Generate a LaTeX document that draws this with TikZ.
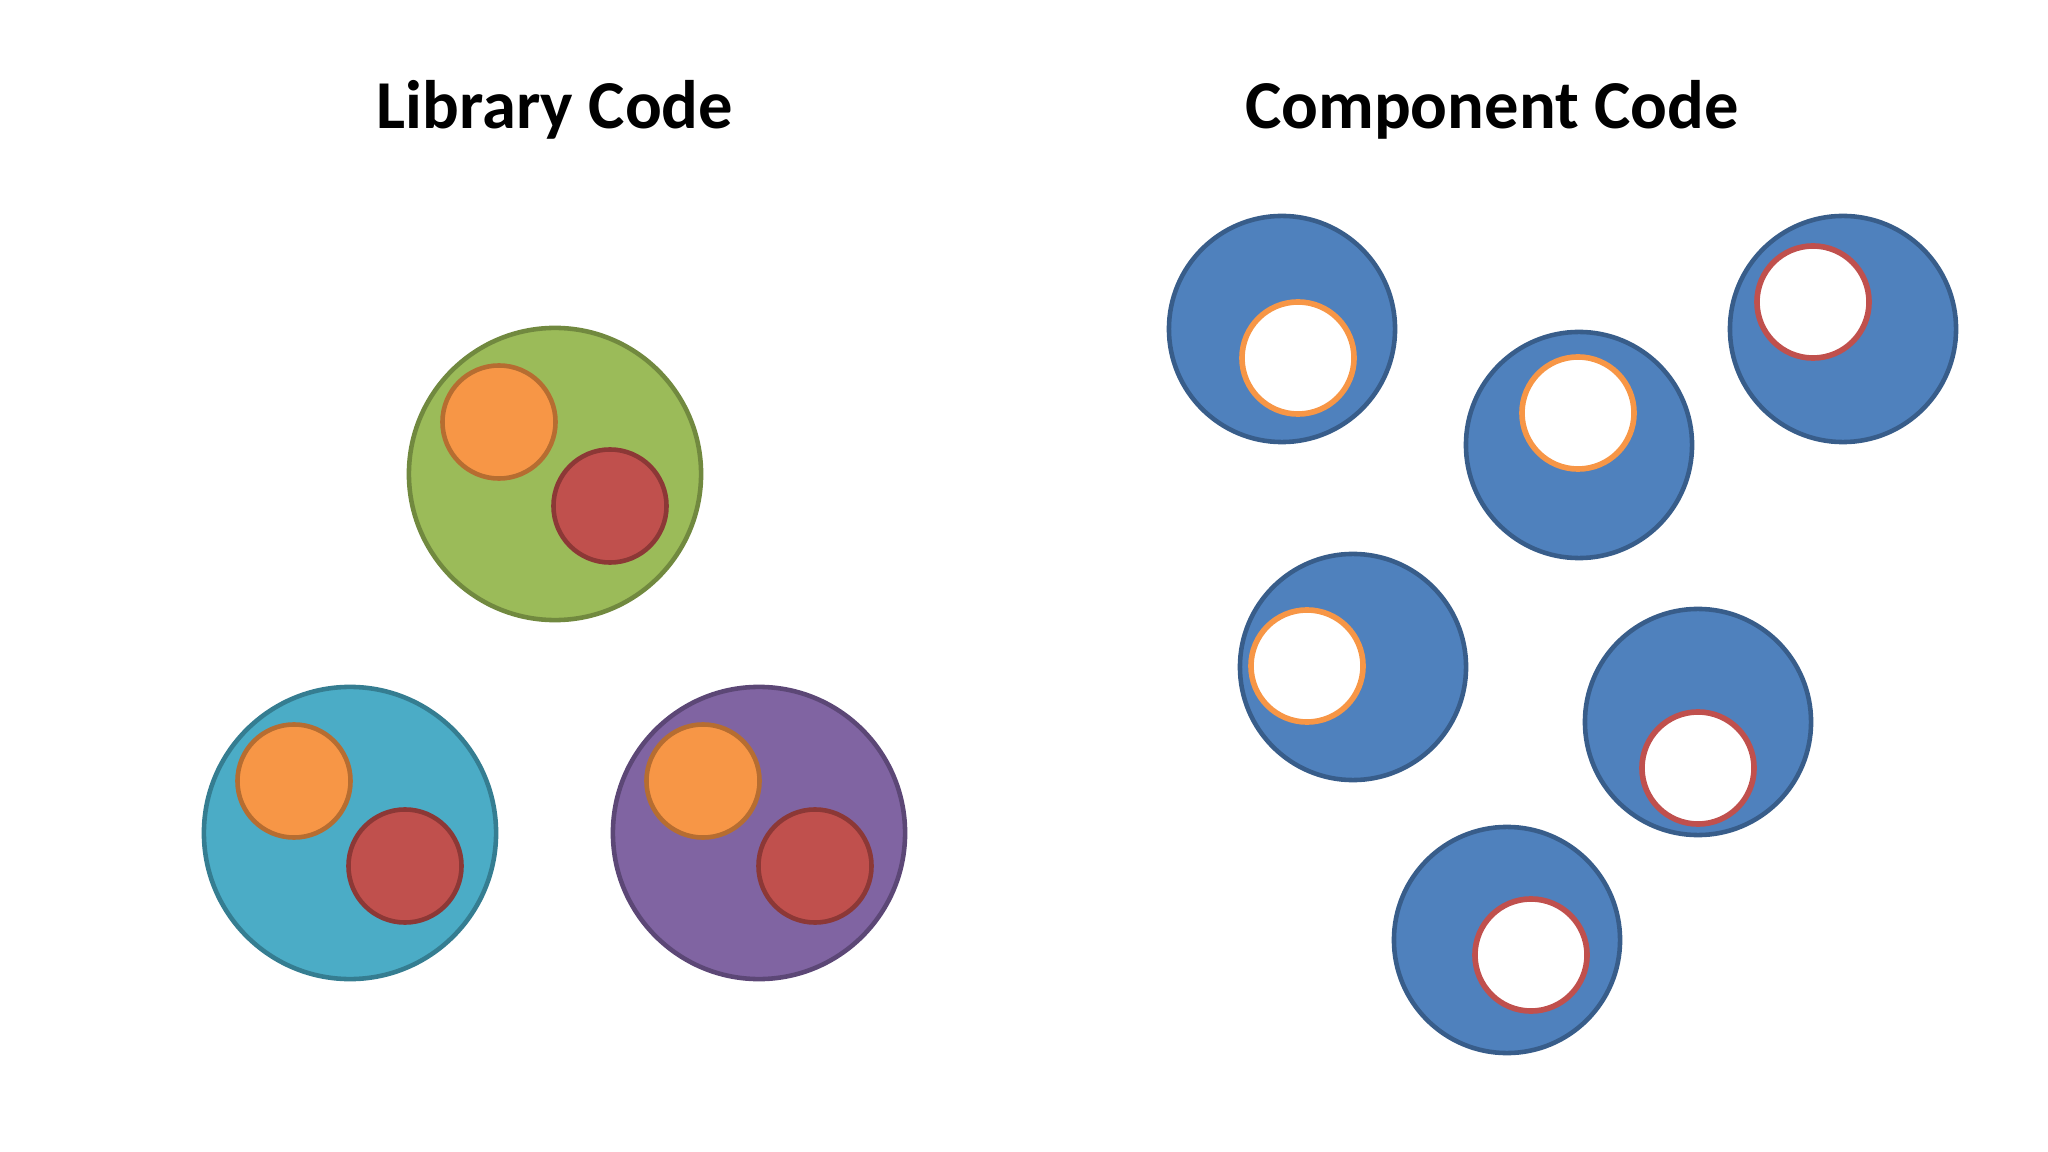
\documentclass[tikz,border=0pt]{standalone}
\usepackage{fontspec}
\setmainfont{Carlito}
\definecolor{LibGreen}{HTML}{9BBB59}
\definecolor{LibGreenLine}{HTML}{71893F}
\definecolor{LibCyan}{HTML}{4BACC6}
\definecolor{LibCyanLine}{HTML}{357D91}
\definecolor{LibPurple}{HTML}{8064A2}
\definecolor{LibPurpleLine}{HTML}{5C4776}
\definecolor{PartOrange}{HTML}{F79646}
\definecolor{PartOrangeLine}{HTML}{B66D31}
\definecolor{PartRed}{HTML}{C0504D}
\definecolor{PartRedLine}{HTML}{8C3836}
\definecolor{CompBlue}{HTML}{4F81BD}
\definecolor{CompBlueLine}{HTML}{385D8A}

\begin{document}
\begin{tikzpicture}[x=0.01cm,y=-0.01cm,
  heading/.style={anchor=base,font=\bfseries\fontsize{19.5}{23}\selectfont},
  libbody/.style={circle,inner sep=0pt,minimum size=2.92cm,line width=1.3pt},
  part/.style={circle,inner sep=0pt,minimum size=1.13cm,line width=1.3pt},
  compbody/.style={circle,inner sep=0pt,minimum size=2.26cm,line width=1.3pt,fill=CompBlue,draw=CompBlueLine},
  hole/.style={circle,inner sep=0pt,minimum size=1.12cm,line width=1.6pt,fill=white}]
\path[use as bounding box] (0,0) rectangle (2048,1152);
\node[heading] (libtitle) at (555,129) {Library Code};
\node[heading] (comptitle) at (1492,129) {Component Code};
% library side
\node[libbody,fill=LibGreen,draw=LibGreenLine] (libtop) at (555,474) {};
\node[part,fill=PartOrange,draw=PartOrangeLine] (toporange) at (499,422) {};
\node[part,fill=PartRed,draw=PartRedLine] (topred) at (610,506) {};
\node[libbody,fill=LibCyan,draw=LibCyanLine] (libleft) at (350,833) {};
\node[part,fill=PartOrange,draw=PartOrangeLine] (leftorange) at (294,781) {};
\node[part,fill=PartRed,draw=PartRedLine] (leftred) at (405,866) {};
\node[libbody,fill=LibPurple,draw=LibPurpleLine] (libright) at (759,833) {};
\node[part,fill=PartOrange,draw=PartOrangeLine] (rightorange) at (703,781) {};
\node[part,fill=PartRed,draw=PartRedLine] (rightred) at (815,866) {};
% component side
\node[compbody] (compa) at (1282,329) {};
\node[hole,draw=PartOrange] (holea) at (1298,358) {};
\node[compbody] (compb) at (1579,445) {};
\node[hole,draw=PartOrange] (holeb) at (1578,413) {};
\node[compbody] (compc) at (1843,329) {};
\node[hole,draw=PartRed] (holec) at (1813,302) {};
\node[compbody] (compd) at (1353,667) {};
\node[hole,draw=PartOrange] (holed) at (1307,666) {};
\node[compbody] (compe) at (1698,722) {};
\node[hole,draw=PartRed] (holee) at (1698,768) {};
\node[compbody] (compf) at (1507,940) {};
\node[hole,draw=PartRed] (holef) at (1531,955) {};
\end{tikzpicture}
\end{document}
